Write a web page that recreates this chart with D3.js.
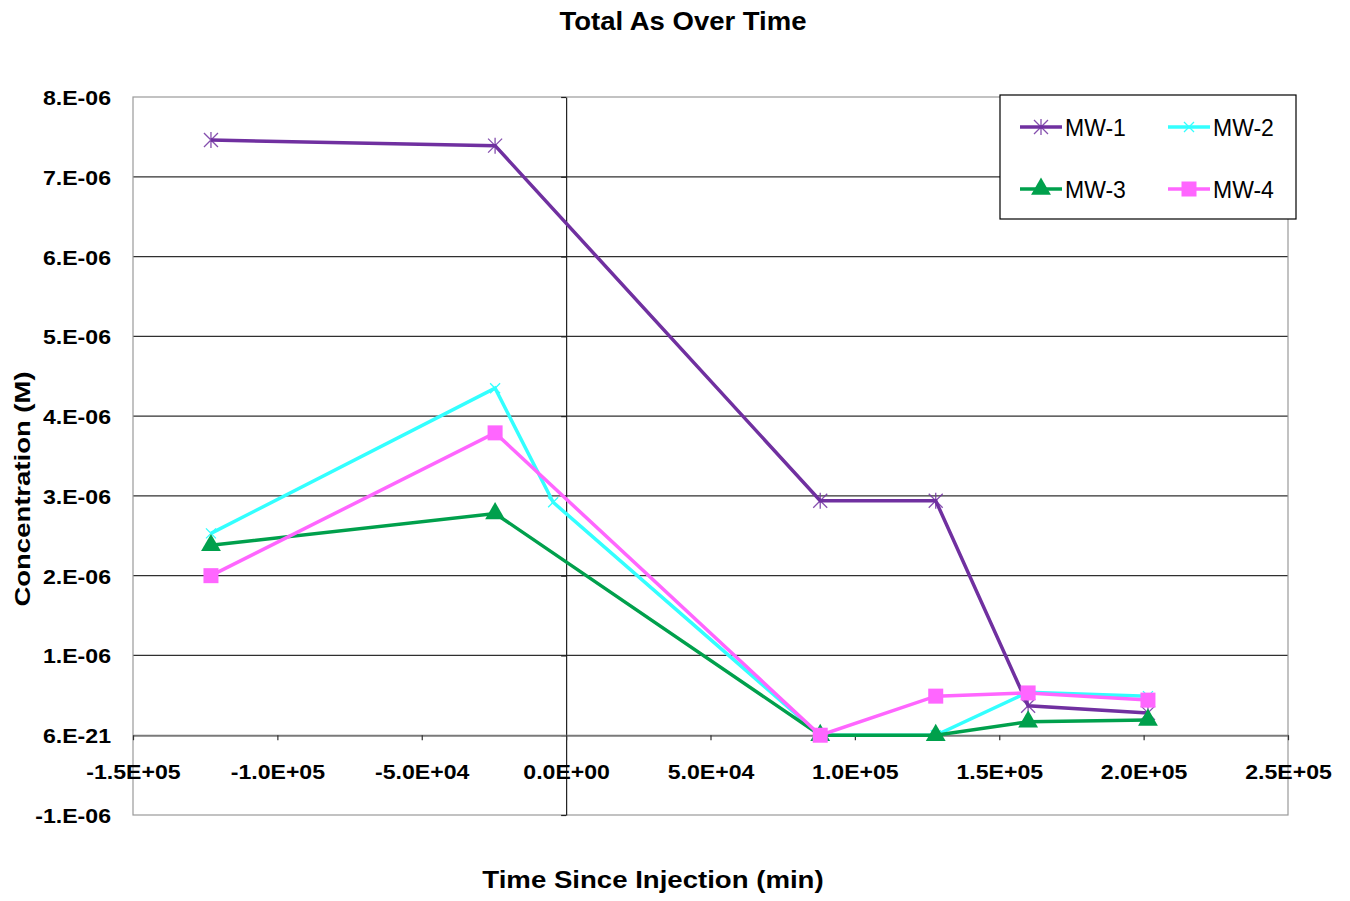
<!DOCTYPE html>
<html><head><meta charset="utf-8">
<script src="https://cdn.jsdelivr.net/npm/d3@7/dist/d3.min.js"></script>
<style>body{margin:0;background:#fff}svg{display:block}</style>
</head><body>
<svg id="c" width="1350" height="901"></svg>
<script>
const seriesNames = ["MW-1","MW-2","MW-3","MW-4"];
const timesMW1 = [-123000, -24600, 88000, 128000, 160000, 201500];
const timesMW2 = [-123000, -24600, -4500, 88000, 128000, 160000, 201500];
const timesMW3 = [-123000, -24600, 88000, 128000, 160000, 201500];
const timesMW4 = [-123000, -24600, 88000, 128000, 160000, 201500];
const valuesMW1 = [7.46e-6, 7.39e-6, 2.94e-6, 2.94e-6, 0.37e-6, 0.28e-6];
const valuesMW2 = [2.53e-6, 4.35e-6, 2.92e-6, 0, 0, 0.54e-6, 0.49e-6];
const valuesMW3 = [2.38e-6, 2.78e-6, 0, 0, 0.17e-6, 0.19e-6];
const valuesMW4 = [2.00e-6, 3.79e-6, 0, 0.49e-6, 0.53e-6, 0.44e-6];
const xTicks = [-150000,-100000,-50000,0,50000,100000,150000,200000,250000];
const xTickLabels = ["-1.5E+05","-1.0E+05","-5.0E+04","0.0E+00","5.0E+04","1.0E+05","1.5E+05","2.0E+05","2.5E+05"];
const yTicks = [8e-6,7e-6,6e-6,5e-6,4e-6,3e-6,2e-6,1e-6,0,-1e-6];
const yTickLabels = ["8.E-06","7.E-06","6.E-06","5.E-06","4.E-06","3.E-06","2.E-06","1.E-06","6.E-21","-1.E-06"];

const colors = ["#7030A0","#33FFFF","#00A04C","#FF66FF"];
const markers = ["star","x","triangle","square"];
const series = [
  {name:seriesNames[0], t:timesMW1, v:valuesMW1},
  {name:seriesNames[1], t:timesMW2, v:valuesMW2},
  {name:seriesNames[2], t:timesMW3, v:valuesMW3},
  {name:seriesNames[3], t:timesMW4, v:valuesMW4}
];

const L=133,R=1288,T=97,B=815;
const x = d3.scaleLinear().domain([-150000,250000]).range([L,R]);
const y = d3.scaleLinear().domain([-1e-6,8e-6]).range([B,T]);
const svg = d3.select("#c");
const FONT = "Liberation Sans, Arial, sans-serif";

function txt(g, px, py, s, size, weight, anchor, sx, rot){
  const t = g.append("text")
    .attr("transform", `translate(${px},${py})` + (rot?` rotate(${rot})`:"") + ` scale(${sx},1)`)
    .attr("font-family", FONT).attr("font-size", size).attr("font-weight", weight)
    .attr("text-anchor", anchor).attr("fill", "#000").text(s);
  return t;
}

// gridlines
svg.append("g").selectAll("line").data(yTicks.filter(d=>d>0 && d<8e-6)).join("line")
  .attr("x1",L).attr("x2",R).attr("y1",d=>y(d)).attr("y2",d=>y(d))
  .attr("stroke","#303030").attr("stroke-width",1.2);

// plot border
svg.append("rect").attr("x",L).attr("y",T).attr("width",R-L).attr("height",B-T)
  .attr("fill","none").attr("stroke","#9a9a9a").attr("stroke-width",1.2);

// y axis at x=0
const yAxis = d3.axisLeft(y).tickValues(yTicks).tickSize(5).tickSizeOuter(0)
  .tickFormat((d,i)=>yTickLabels[i]);
const gy = svg.append("g").attr("transform",`translate(${x(0)},0)`).call(yAxis);
gy.select(".domain").attr("stroke","#202020").attr("stroke-width",1.2);
gy.selectAll(".tick line").attr("stroke","#202020").attr("stroke-width",1.2);
gy.selectAll(".tick text")
  .attr("x",0).attr("dy",null).attr("y",7.5)
  .attr("transform",`translate(${111-x(0)},0) scale(1.1,1)`)
  .attr("font-family",FONT).attr("font-size",21).attr("font-weight","bold")
  .attr("text-anchor","end").attr("fill","#000");

// x axis at y=0
const xAxis = d3.axisBottom(x).tickValues(xTicks).tickSize(5).tickSizeOuter(0)
  .tickFormat((d,i)=>xTickLabels[i]);
const gx = svg.append("g").attr("transform",`translate(0,${y(0)})`).call(xAxis);
gx.select(".domain").attr("stroke","#7a7a7a").attr("stroke-width",2);
gx.selectAll(".tick line").attr("stroke","#303030").attr("stroke-width",1.2);
gx.selectAll(".tick text")
  .attr("y",0).attr("dy",null)
  .attr("transform","translate(0,43.5) scale(1.1,1)")
  .attr("font-family",FONT).attr("font-size",21).attr("font-weight","bold")
  .attr("fill","#000");

// marker drawing
function drawMarker(g, kind, color, cx, cy){
  if(kind==="star"){
    const s=7;
    const p=`M${cx-s},${cy-s}L${cx+s},${cy+s}M${cx-s},${cy+s}L${cx+s},${cy-s}M${cx},${cy-s-1}L${cx},${cy+s+1}`;
    g.append("path").attr("d",p).attr("stroke",color).attr("stroke-width",1.3).attr("fill","none").attr("opacity",0.85);
  } else if(kind==="x"){
    const s=5;
    const p=`M${cx-s},${cy-s}L${cx+s},${cy+s}M${cx-s},${cy+s}L${cx+s},${cy-s}`;
    g.append("path").attr("d",p).attr("stroke",color).attr("stroke-width",1.3).attr("fill","none");
  } else if(kind==="triangle"){
    g.append("path").attr("d",d3.symbol(d3.symbolTriangle,170)()).attr("transform",`translate(${cx},${cy})`)
      .attr("fill",color);
  } else if(kind==="square"){
    g.append("rect").attr("x",cx-7.5).attr("y",cy-7.5).attr("width",15).attr("height",15).attr("fill",color);
  }
}

const line = d3.line().x(d=>x(d[0])).y(d=>y(d[1]));
series.forEach((s,i)=>{
  const pts = s.t.map((t,j)=>[t,s.v[j]]);
  const g = svg.append("g");
  g.append("path").datum(pts).attr("d",line).attr("fill","none")
    .attr("stroke",colors[i]).attr("stroke-width",3.5).attr("stroke-linejoin","miter");
  pts.forEach(p=>drawMarker(g, markers[i], colors[i], x(p[0]), y(p[1])));
});

// legend
const lg = svg.append("g");
lg.append("rect").attr("x",1000).attr("y",95).attr("width",296).attr("height",124)
  .attr("fill","#fff").attr("stroke","#000").attr("stroke-width",1.2);
const legPos = [[1020,127],[1168,127],[1020,189],[1168,189]];
series.forEach((s,i)=>{
  const [lx,ly] = legPos[i];
  lg.append("line").attr("x1",lx).attr("x2",lx+42).attr("y1",ly).attr("y2",ly)
    .attr("stroke",colors[i]).attr("stroke-width",3.5);
  drawMarker(lg, markers[i], colors[i], lx+21, ly);
  txt(lg, lx+45, ly+8.5, s.name, 23, "normal", "start", 1.0);
});

// titles
txt(svg, 683, 30, "Total As Over Time", 25, "bold", "middle", 1.1);
txt(svg, 653, 888, "Time Since Injection (min)", 23, "bold", "middle", 1.2);
txt(svg, 30, 489, "Concentration (M)", 22, "bold", "middle", 1.25, -90);
</script>
</body></html>
